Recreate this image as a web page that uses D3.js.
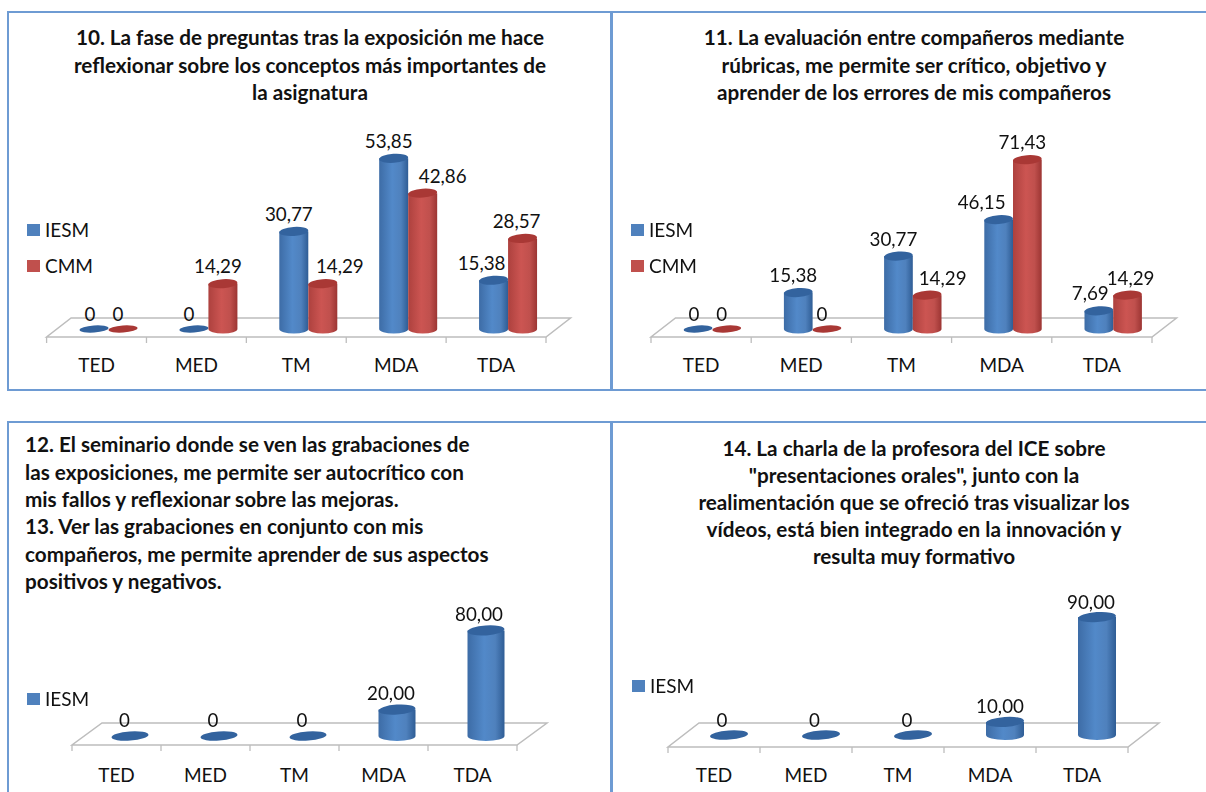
<!DOCTYPE html>
<html>
<head>
<meta charset="utf-8">
<script src="https://cdn.jsdelivr.net/npm/d3@7/dist/d3.min.js"></script>
<style>
html,body{margin:0;padding:0;background:#fff;overflow:hidden}
svg{display:block;filter:blur(0.5px)}
text{font-family:Lato,"Open Sans",sans-serif;fill:#111}
</style>
</head>
<body>
<svg id="chart" width="1206" height="792"></svg>
<script>
// ---- data ----
const categories = ["TED", "MED", "TM", "MDA", "TDA"];
const iesm10 = [0, 0, 30.77, 53.85, 15.38];
const cmm10  = [0, 14.29, 14.29, 42.86, 28.57];
const iesm11 = [0, 15.38, 30.77, 46.15, 7.69];
const cmm11  = [0, 0, 14.29, 71.43, 14.29];
const iesm12 = [0, 0, 0, 20, 80];
const iesm14 = [0, 0, 0, 10, 90];

const title10 = ["10. La fase de preguntas tras la exposición me hace",
                 "reflexionar sobre los conceptos más importantes de",
                 "la asignatura"];
const title11 = ["11. La evaluación entre compañeros mediante",
                 "rúbricas, me permite ser crítico, objetivo y",
                 "aprender de los errores de mis compañeros"];
const title12 = ["12. El seminario donde se ven las grabaciones de",
                 "las exposiciones, me permite ser autocrítico con",
                 "mis fallos y reflexionar sobre las mejoras.",
                 "13. Ver las grabaciones en conjunto con mis",
                 "compañeros, me permite aprender de sus aspectos",
                 "positivos y negativos."];
const title14 = ["14. La charla de la profesora del ICE sobre",
                 "\"presentaciones orales\", junto con la",
                 "realimentación que se ofreció tras visualizar los",
                 "vídeos, está bien integrado en la innovación y",
                 "resulta muy formativo"];

// ---- layout and style ----
const palette = {
  IESM: {flat:"#4f81bd", edgeL:"#3d6ca6", mid:"#5289c9", edgeR:"#2f5d95", top:"#33639e"},
  CMM:  {flat:"#c0504d", edgeL:"#ad413e", mid:"#cc5552", edgeR:"#9c3533", top:"#a93835"}
};
const FONT = {title:20.7, axis:19, value:18.8, legend:19};

const panels = [
  { box:[8,12,603,378], names:["IESM","CMM"], series:[iesm10,cmm10], title:title10, titleAnchor:"middle", titleX:310, titleY:38, titleStep:27.3,
    front:[46.6,546], frontY:337, backY:318, depth:24.5, barBase:329, unit:3.17, barW:29, shift:12, ry:4.5, zeroRy:3.5, catDrop:28,
    legendX:27, legendY:[230,266],
    nudge:[[-4,-5,-5,-5,-12],[-5,-5,17,20,-6]], lift:[-15,-17] },
  { box:[612,12,600,378], names:["IESM","CMM"], series:[iesm11,cmm11], title:title11, titleAnchor:"middle", titleX:914, titleY:38, titleStep:27.3,
    front:[651,1152], frontY:337, backY:318, depth:24.5, barBase:329, unit:2.37, barW:28.7, shift:11.3, ry:4.5, zeroRy:3.5, catDrop:28,
    legendX:631, legendY:[230,266],
    nudge:[[-4,-5,-5,-17,-8.6],[-5,-5,15.5,-5,3]], lift:[-15,-17] },
  { box:[8,422,603,400], names:["IESM"], series:[iesm12], title:title12, titleAnchor:"start", titleX:25, titleY:445, titleStep:27.4,
    front:[72,517], frontY:745, backY:723, depth:30, barBase:736, unit:1.32, barW:37, shift:13.5, ry:5, zeroRy:4.6, catDrop:30,
    legendX:27, legendY:[699],
    nudge:[[-5.5,-6,-6,-6,-7]], lift:[-16,-16] },
  { box:[612,422,600,400], names:["IESM"], series:[iesm14], title:title14, titleAnchor:"middle", titleX:914, titleY:449, titleStep:27,
    front:[668,1128], frontY:747, backY:723, depth:31, barBase:735, unit:1.31, barW:38, shift:15, ry:5, zeroRy:4.6, catDrop:28,
    legendX:632, legendY:[686],
    nudge:[[-7,-6.5,-6,-5,-6]], lift:[-15,-15] }
];

const fmt = v => v === 0 ? "0" : d3.format(".2f")(v).replace(".", ",");
const svg = d3.select("#chart");
const defs = svg.append("defs");

Object.entries(palette).forEach(([name,c]) => {
  const g = defs.append("linearGradient").attr("id","cyl"+name);
  g.selectAll("stop").data([[0,c.edgeL],[.45,c.mid],[.75,c.flat],[1,c.edgeR]]).join("stop")
    .attr("offset",d=>d[0]).attr("stop-color",d=>d[1]);
});

panels.forEach(p => {
  const root = svg.append("g");
  // frame
  root.append("rect").attr("x",p.box[0]).attr("y",p.box[1]).attr("width",p.box[2]).attr("height",p.box[3])
    .attr("fill","#fff").attr("stroke","#6e9bd3").attr("stroke-width",2);

  // title
  root.selectAll("text.title").data(p.title).join("text").attr("class","title")
    .attr("x",p.titleX).attr("y",(d,i)=>p.titleY+i*p.titleStep).attr("dy","0.35em")
    .attr("text-anchor",p.titleAnchor).attr("font-weight",700).attr("font-size",FONT.title).text(d=>d);

  // scales
  const x = d3.scaleBand().domain(categories).range(p.front);
  const sub = d3.scaleBand().domain(p.names).range([-p.barW*p.names.length/2, p.barW*p.names.length/2]);
  const y = d3.scaleLinear().domain([0,100]).range([p.barBase, p.barBase-100*p.unit]);

  // floor
  const floor = [[p.front[0],p.frontY],[p.front[1],p.frontY],[p.front[1]+p.depth,p.backY],[p.front[0]+p.depth,p.backY]];
  root.append("path").attr("d",d3.line()(floor)+"Z").attr("fill","#fff").attr("stroke","#bdbdbd").attr("stroke-width",1.5);

  // category ticks and labels
  const edges = categories.map(c=>x(c)).concat([p.front[1]]);
  root.selectAll("line.tick").data(edges).join("line").attr("class","tick")
    .attr("x1",d=>d).attr("x2",d=>d).attr("y1",p.frontY).attr("y2",p.frontY+6)
    .attr("stroke","#bdbdbd").attr("stroke-width",1.3);
  root.selectAll("text.cat").data(categories).join("text").attr("class","cat")
    .attr("x",c=>x(c)+x.bandwidth()/2).attr("y",p.frontY+p.catDrop).attr("dy","0.35em")
    .attr("text-anchor","middle").attr("font-size",FONT.axis).text(c=>c);

  // bars
  const marks = [];
  categories.forEach((c,ci) => p.names.forEach((n,si) => {
    marks.push({c,ci,n,si,v:p.series[si][ci]});
  }));
  const rx = p.barW/2;
  const cx = d => x(d.c)+x.bandwidth()/2+p.shift+sub(d.n)+sub.bandwidth()/2;

  const bars = root.selectAll("g.bar").data(marks).join("g").attr("class","bar");
  bars.filter(d=>d.v>0).append("path")
    .attr("d",d=>{
      const l=cx(d)-rx, r=cx(d)+rx, t=y(d.v), b=y(0);
      return `M${l},${t}L${l},${b}A${rx},${p.ry} 0 0 0 ${r},${b}L${r},${t}Z`;
    })
    .attr("fill",d=>`url(#cyl${d.n})`);
  bars.append("ellipse")
    .attr("cx",cx).attr("cy",d=>y(d.v)).attr("rx",rx).attr("ry",d=>d.v===0?p.zeroRy:p.ry)
    .attr("transform",d=>`rotate(-4 ${cx(d)} ${y(d.v)})`)
    .attr("fill",d=>palette[d.n].top);

  // value labels
  root.selectAll("text.val").data(marks).join("text").attr("class","val")
    .attr("x",d=>cx(d)+p.nudge[d.si][d.ci])
    .attr("y",d=>y(d.v)+(d.v===0?p.lift[0]:p.lift[1])).attr("dy","0.35em")
    .attr("text-anchor","middle").attr("font-size",FONT.value).text(d=>fmt(d.v));

  // legend
  const lg = root.selectAll("g.leg").data(p.names).join("g").attr("class","leg")
    .attr("transform",(d,i)=>`translate(${p.legendX},${p.legendY[i]})`);
  lg.append("rect").attr("x",0).attr("y",-6).attr("width",13).attr("height",12).attr("fill",d=>palette[d].flat);
  lg.append("text").attr("x",18).attr("y",0).attr("dy","0.35em").attr("font-size",FONT.legend).text(d=>d);
});
</script>
</body>
</html>
